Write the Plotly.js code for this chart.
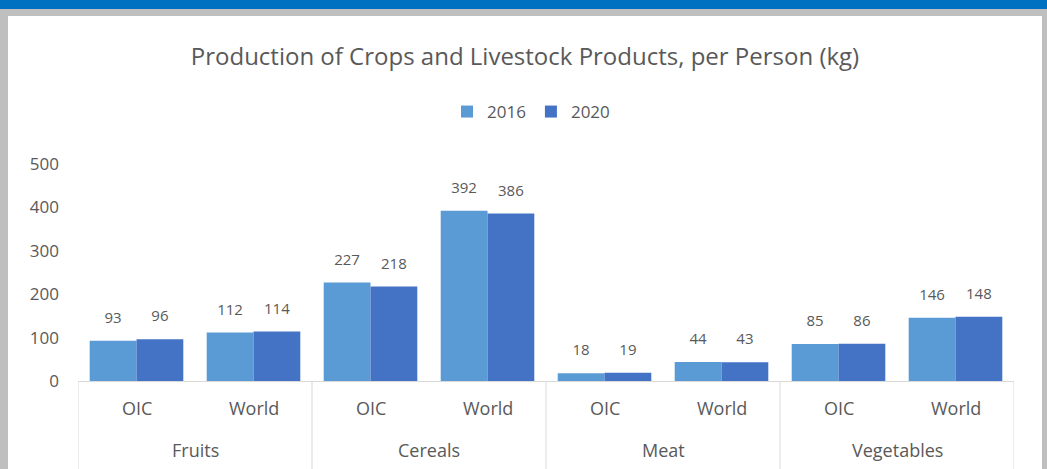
<!DOCTYPE html>
<html>
<head>
<meta charset="utf-8">
<script src="https://cdn.plot.ly/plotly-3.0.1.min.js"></script>
<style>
  html, body { margin: 0; padding: 0; width: 1047px; height: 469px; overflow: hidden; background: #BFBFBF; }
  #topbar { position: absolute; left: 0; top: 0; width: 1047px; height: 9px; background: #0070C0; }
  #chart { position: absolute; left: 8px; top: 16px; width: 1034px; height: 453px; background: #fff; }
</style>
</head>
<body>
<div id="topbar"></div>
<div id="chart"></div>
<script>
const groupNames = ["Fruits", "Cereals", "Meat", "Vegetables"];
const groups = ["Fruits", "Fruits", "Cereals", "Cereals", "Meat", "Meat", "Vegetables", "Vegetables"];
const regions = ["OIC", "World", "OIC", "World", "OIC", "World", "OIC", "World"];
const values2016 = [93, 112, 227, 392, 18, 44, 85, 146];
const values2020 = [96, 114, 218, 386, 19, 43, 86, 148];
const yTicks = [0, 100, 200, 300, 400, 500];

const textColor = "#595959";
const lineColor = "#D9D9D9";
const fontFam = "'Open Sans', 'Noto Sans', sans-serif";

const xcats = [groups, regions];

const labelTrace = (vals) => ({
  type: "scatter", mode: "markers+text", x: xcats, y: vals, text: vals.map(String),
  textposition: "top center", textfont: { size: 15, color: textColor, family: fontFam },
  marker: { size: 21, opacity: 0 }, showlegend: false, hoverinfo: "skip", cliponaxis: false
});

const traces = [
  { type: "bar", name: "2016", x: xcats, y: values2016, marker: { color: "#5B9BD5" }, hoverinfo: "y" },
  { type: "bar", name: "2020", x: xcats, y: values2020, marker: { color: "#4472C4" }, hoverinfo: "y" },
  labelTrace(values2016),
  labelTrace(values2020)
];

// category axis labels and dividers, placed by category index
const annotations = [];
regions.forEach((r, i) => annotations.push({
  xref: "x", yref: "paper", x: i, y: 0, yshift: -27, yanchor: "middle", xanchor: "center",
  text: r, showarrow: false, font: { size: 18, color: textColor, family: fontFam }
}));
groupNames.forEach((g, k) => annotations.push({
  xref: "x", yref: "paper", x: 2 * k + 0.5, y: 0, yshift: -69, yanchor: "middle", xanchor: "center",
  text: g, showarrow: false, font: { size: 18, color: textColor, family: fontFam }
}));
const shapes = [];
for (let k = 0; k <= groupNames.length; k++) {
  shapes.push({ type: "line", xref: "x", yref: "paper", x0: 2 * k - 0.5, x1: 2 * k - 0.5, y0: 0, y1: -0.42,
    line: { color: lineColor, width: 1 } });
}

const layout = {
  width: 1034, height: 453,
  margin: { l: 70, r: 28, t: 148, b: 88 },
  paper_bgcolor: "#ffffff", plot_bgcolor: "#ffffff",
  font: { family: fontFam, color: textColor },
  title: { text: "Production of Crops and Livestock Products, per Person (kg)",
    font: { size: 24, color: textColor, family: fontFam },
    x: 0.5, xanchor: "center", y: 1 - 41/453, yanchor: "middle", yref: "container" },
  barmode: "group", bargap: 0.2, bargroupgap: 0,
  scattermode: "group", scattergap: 0.2,
  showlegend: true,
  legend: { orientation: "h", x: 0.484, xanchor: "center", y: 1 - 96/453, yanchor: "middle", yref: "container",
    font: { size: 17, color: textColor, family: fontFam }, traceorder: "normal", itemwidth: 30 },
  xaxis: { type: "multicategory", range: [-0.5, regions.length - 0.5], showline: true, linecolor: lineColor, linewidth: 1,
    showticklabels: false, showdividers: false, ticks: "", showgrid: false, zeroline: false },
  yaxis: { range: [0, 500], tickvals: yTicks, showgrid: false, zeroline: false, showline: false,
    tickfont: { size: 17, color: textColor, family: fontFam }, ticks: "", ticklabelstandoff: 18 },
  annotations: annotations,
  shapes: shapes
};

Plotly.newPlot("chart", traces, layout, { displayModeBar: false, staticPlot: true });
</script>
</body>
</html>
